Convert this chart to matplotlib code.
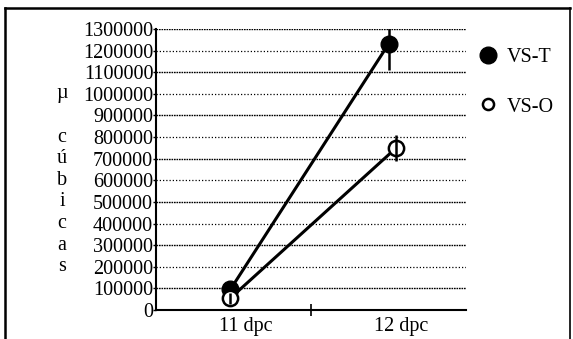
import numpy as np
import matplotlib.pyplot as plt
from matplotlib.lines import Line2D

plt.rcParams["font.family"] = ["Liberation Serif", "DejaVu Serif"]

categories = ["11 dpc", "12 dpc"]
vs_t = [95000, 1230000]
vs_t_err = [30000, 120000]
vs_o = [55000, 750000]
vs_o_err = [25000, 60000]
y_ticks = list(range(0, 1300001, 100000))
ylabel_letters = ["µ", "c", "ú", "b", "i", "c", "a", "s"]
ylabel_rows = [1000000, 800000, 700000, 600000, 500000, 400000, 300000, 200000]

W, H = 573, 339
FS = 14.5
fig = plt.figure(figsize=(W / 100, H / 100), dpi=100, facecolor="white")
ax = fig.add_axes([156 / W, 1 - 310 / H, 310 / W, (310 - 29) / H])

x_pos = np.array([0.48, 1.5])

# gridlines: alternating wavy / dotted look
for v in y_ticks[1:]:
    if (v // 100000) % 2 == 1:
        ax.axhline(v, color="black", lw=1.0, ls=(0, (1.2, 0.6)), zorder=1)
    else:
        ax.axhline(v, color="black", lw=0.9, ls=(0, (1, 1.6)), zorder=1)

ax.plot(x_pos, vs_t, color="black", lw=2.2, marker="o", ms=12,
        mfc="black", mec="black", zorder=3)
ax.errorbar(x_pos, vs_t, yerr=vs_t_err, fmt="none", ecolor="black",
            elinewidth=1.8, capsize=0, zorder=3)
ax.plot(x_pos + np.array([0, 0.05]), vs_o, color="black", lw=2.2, marker="o",
        ms=11, mfc="white", mec="black", mew=1.8, zorder=4)
ax.errorbar(x_pos + np.array([0, 0.05]), vs_o, yerr=vs_o_err, fmt="none",
            ecolor="black", elinewidth=1.8, capsize=0, zorder=5)

ax.set_xlim(0, 2)
ax.set_ylim(0, 1300000)
ax.set_yticks(y_ticks)
ax.set_yticklabels([str(v) for v in y_ticks], fontsize=FS)
ax.tick_params(axis="y", length=2, width=1, pad=0)
ax.set_xticks([1])
ax.set_xticklabels([""])
ax.tick_params(axis="x", which="major", length=8, width=1.2, direction="inout")
ax.set_xticks([0.58, 1.58], minor=True)
ax.set_xticklabels(categories, minor=True, fontsize=FS)
ax.tick_params(axis="x", which="minor", length=0, pad=5)

for side in ["top", "right"]:
    ax.spines[side].set_visible(False)
ax.spines["left"].set_linewidth(1.5)
ax.spines["bottom"].set_linewidth(1.5)

for letter, row in zip(ylabel_letters, ylabel_rows):
    ax.text(-0.303, row, letter, transform=ax.get_yaxis_transform(),
            ha="center", va="center", fontsize=FS)

handles = [
    Line2D([], [], ls="none", marker="o", ms=12, mfc="black", mec="black"),
    Line2D([], [], ls="none", marker="o", ms=8, mfc="white", mec="black", mew=1.8),
]
fig.legend(handles, ["VS-T", "VS-O"], loc="upper left",
           bbox_to_anchor=(458 / W, 1 - 30 / H), frameon=False, fontsize=FS,
           handletextpad=0.3, labelspacing=1.5, handlelength=1.2)

# outer frame
fig.add_artist(Line2D([5 / W, 5 / W], [0, 1 - 8 / H], transform=fig.transFigure,
                      color="black", lw=1.8))
fig.add_artist(Line2D([5 / W, 570 / W], [1 - 8 / H, 1 - 8 / H],
                      transform=fig.transFigure, color="black", lw=1.8))
fig.add_artist(Line2D([570 / W, 570 / W], [0, 1 - 8 / H], transform=fig.transFigure,
                      color="black", lw=1.2))

fig.savefig("out.png", dpi=100, facecolor="white")
